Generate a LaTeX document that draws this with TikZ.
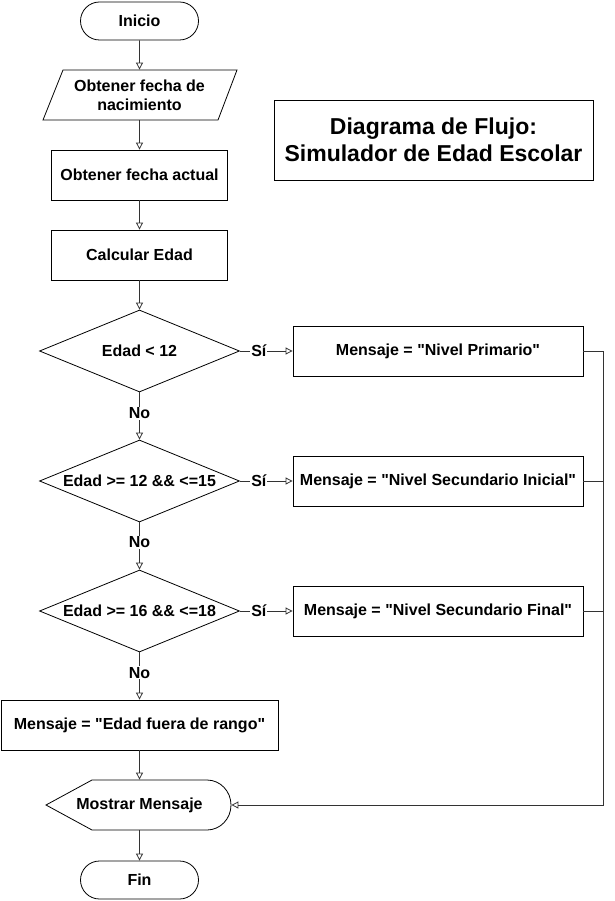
\documentclass[tikz,border=0pt]{standalone}
\usepackage{fontspec}
\setmainfont{Liberation Sans}[Ligatures=TeXOff]
\usetikzlibrary{arrows.meta,shapes.geometric,shapes.misc}
\begin{document}
\begin{tikzpicture}[x=1pt,y=-1pt,
  font=\bfseries\fontsize{16}{19}\selectfont,
  line width=0.8pt,
  arr/.style={draw=black!80, -{Triangle[open,length=7pt,width=7pt]}},
  ln/.style={draw=black!80},
  box/.style={draw, rectangle, minimum width=#1, minimum height=50pt, inner sep=0pt, align=center},
  term/.style={draw, rounded rectangle, minimum width=118pt, minimum height=38pt, inner sep=0pt},
  dec/.style={draw, diamond, aspect=2.44, minimum width=200pt, minimum height=82pt, inner sep=0pt},
  ghost/.style={rectangle, minimum width=#1, minimum height=50pt, inner sep=0pt, align=center},
  lab/.style={fill=white, inner sep=1pt}
]
\useasboundingbox (0,0) rectangle (614,901);

\node[term] (ini) at (139.5,21) {Inicio};
\draw (63,70) -- (237,70) -- (218,120) -- (43,120) -- cycle;
\node[ghost=150pt] (fn) at (139.5,95) {Obtener fecha de\\nacimiento};
\node[box=176pt] (fa) at (139.5,175) {Obtener fecha actual};
\node[box=176pt] (ce) at (139.5,255) {Calcular Edad};
\node[dec] (d1) at (139.5,351) {Edad < 12};
\node[dec] (d2) at (139.5,481) {Edad >= 12 \&\& <=15};
\node[dec] (d3) at (139.5,611) {Edad >= 16 \&\& <=18};
\node[box=290pt] (r1) at (438,351) {Mensaje = "Nivel Primario"};
\node[box=290pt] (r2) at (438,481) {Mensaje = "Nivel Secundario Inicial"};
\node[box=290pt] (r3) at (438,611) {Mensaje = "Nivel Secundario Final"};
\node[box=277pt] (fu) at (139.5,725) {Mensaje = "Edad fuera de rango"};
\draw (46,805) -- (92,780) -- (207,780) arc[start angle=-90, end angle=90, x radius=24, y radius=25] -- (92,830) -- cycle;
\node[ghost=183pt] (disp) at (139.5,805) {Mostrar Mensaje};
\node[term] (fin) at (139.5,880) {Fin};
\node[draw, rectangle, minimum width=319pt, minimum height=80pt, inner sep=0pt, align=center,
  font=\bfseries\fontsize{23}{27}\selectfont] (title) at (433.5,140) {Diagrama de Flujo:\\Simulador de Edad Escolar};

\coordinate (c1) at (603,351);

\draw[arr] (ini) -- (fn);
\draw[arr] (fn) -- (fa);
\draw[arr] (fa) -- (ce);
\draw[arr] (ce) -- (d1);
\draw[arr] (d1) -- node[lab, pos=0.44] {No} (d2);
\draw[arr] (d2) -- node[lab, pos=0.42] {No} (d3);
\draw[arr] (d3) -- node[lab, pos=0.43] {No} (fu);
\draw[arr] (d1.east) -- node[lab, pos=0.36] {Sí} (r1.west);
\draw[arr] (d2.east) -- node[lab, pos=0.36] {Sí} (r2.west);
\draw[arr] (d3.east) -- node[lab, pos=0.36] {Sí} (r3.west);
\draw[arr] (fu) -- (disp);
\draw[arr] (disp) -- (fin);
\draw[arr] (r1.east) -- (c1) |- (disp.east);
\draw[ln] (r2.east) -- (r2.east -| c1);
\draw[ln] (r3.east) -- (r3.east -| c1);
\end{tikzpicture}
\end{document}
